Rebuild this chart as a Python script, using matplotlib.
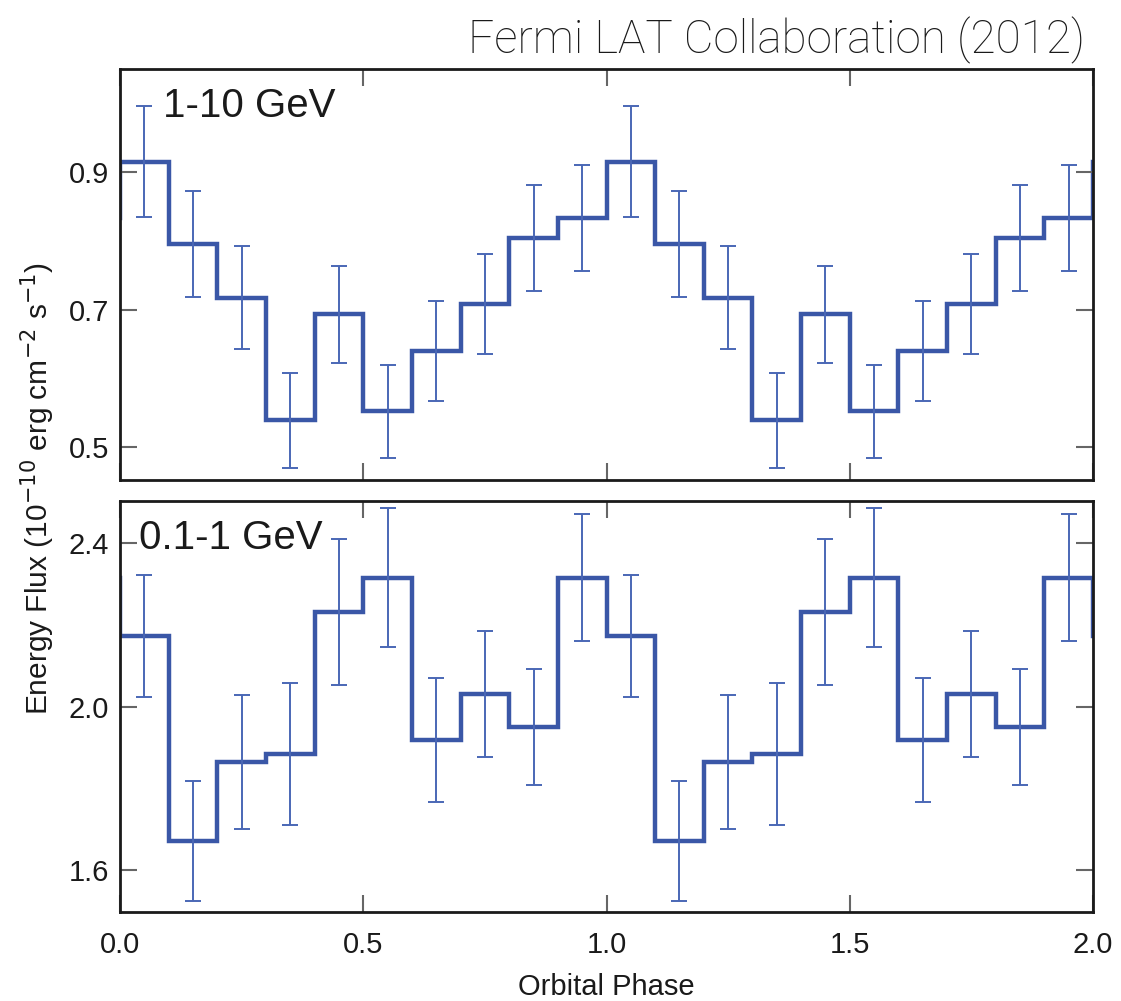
import numpy as np
import matplotlib
matplotlib.use("Agg")
import matplotlib.pyplot as plt

plt.rcParams['font.family'] = ['Liberation Sans', 'DejaVu Sans']

# one orbital period, 10 phase bins; the chart shows it twice
phase_edges = np.linspace(0.0, 1.0, 11)

# 1-10 GeV flux (1e-10 erg cm^-2 s^-1)
high_flux = [0.915, 0.795, 0.717, 0.539, 0.693, 0.552, 0.640, 0.708, 0.804, 0.833]
high_err = [0.081, 0.077, 0.075, 0.069, 0.071, 0.068, 0.073, 0.073, 0.077, 0.077]

# 0.1-1 GeV flux
low_flux = [2.174, 1.672, 1.865, 1.885, 2.232, 2.316, 1.919, 2.032, 1.951, 2.316]
low_err = [0.150, 0.147, 0.165, 0.173, 0.178, 0.170, 0.152, 0.155, 0.143, 0.155]

panel_labels = ["1-10 GeV", "0.1-1 GeV"]
ylims = [(0.452, 1.05), (1.498, 2.504)]
yticks = [[0.5, 0.7, 0.9], [1.6, 2.0, 2.4]]
xticks = [0.0, 0.5, 1.0, 1.5, 2.0]

LINE = "#3a57a7"
ERR = "#4a67b5"
INK = "#1a1a1a"

fig = plt.figure(figsize=(11.21, 10.01), dpi=100)
ax_top = fig.add_axes([120 / 1121, 1 - 480 / 1001, 973 / 1121, 411 / 1001])
ax_bot = fig.add_axes([120 / 1121, 1 - 912 / 1001, 973 / 1121, 411 / 1001])


def draw_panel(ax, flux, err, label, label_x, ylim, ticks):
    flux = np.asarray(flux)
    err = np.asarray(err)
    # repeat the period, padded one bin each side so the edges wrap
    vals = np.concatenate([flux[-1:], flux, flux, flux[:1]])
    edges = np.concatenate([[-0.1], phase_edges[:-1], phase_edges[:-1] + 1.0, [2.0, 2.1]])
    ax.stairs(vals, edges, color=LINE, lw=3.2, baseline=None)
    centers = np.concatenate([phase_edges[:-1], phase_edges[:-1] + 1.0]) + 0.05
    ax.errorbar(centers, np.tile(flux, 2), yerr=np.tile(err, 2), fmt="none",
                ecolor=ERR, elinewidth=1.4, capsize=5.5, capthick=1.4)
    ax.set_xlim(0, 2)
    ax.set_ylim(*ylim)
    ax.set_yticks(ticks)
    ax.set_yticklabels([f"{t:.1f}" for t in ticks])
    ax.set_xticks(xticks)
    ax.tick_params(direction="in", length=12, width=1.5, color="#666666",
                   top=True, right=True, labelsize=21, labelcolor=INK, pad=8)
    for sp in ax.spines.values():
        sp.set_linewidth(2)
        sp.set_color(INK)
    ax.text(label_x, 0.955, label, transform=ax.transAxes, fontsize=29,
            color=INK, va="top", ha="left")


draw_panel(ax_top, high_flux, high_err, panel_labels[0], 0.044, ylims[0], yticks[0])
draw_panel(ax_bot, low_flux, low_err, panel_labels[1], 0.020, ylims[1], yticks[1])

ax_top.tick_params(labelbottom=False)
ax_bot.set_xticklabels(["0.0", "0.5", "1.0", "1.5", "2.0"])
ax_bot.tick_params(axis="x", pad=14)
ax_bot.set_xlabel("Orbital Phase", fontsize=21, color=INK, labelpad=10)

fig.text(38 / 1121, 1 - 488 / 1001,
         r"Energy Flux (10$^{-10}$ erg cm$^{-2}$ s$^{-1}$)",
         rotation=90, fontsize=21.5, color=INK, ha="center", va="center")

fig.text(1085 / 1121, 1 - 40 / 1001, "Fermi LAT Collaboration (2012)",
         fontsize=33, color=INK, ha="right", va="center",
         family=["Roboto", "DejaVu Sans"], fontweight="light")

fig.savefig("out.png", dpi=100)
